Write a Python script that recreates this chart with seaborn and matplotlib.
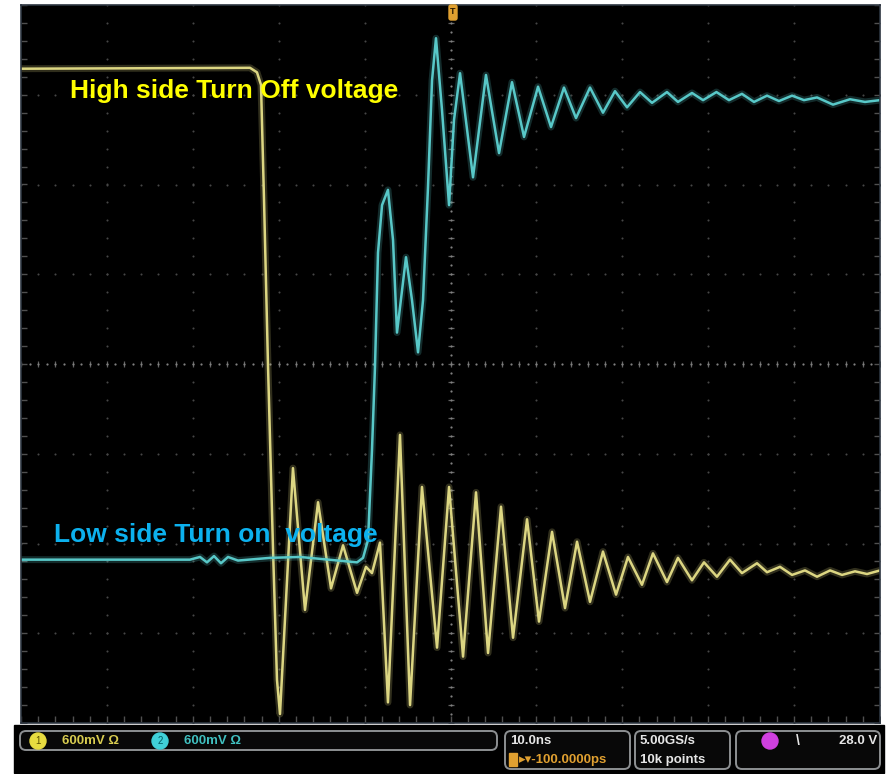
import numpy as np
import pandas as pd
import matplotlib.pyplot as plt
import seaborn as sns
from matplotlib.patches import FancyBboxPatch, Circle, Rectangle

# --- trace data (time in ns, amplitude in divisions) ---
ch1_t = [-50.0, -23.34, -22.53, -22.06, -21.71, -21.25, -20.66, -20.20, -19.85,
         -18.34, -16.94, -15.42, -13.91, -12.51, -10.88, -9.84, -9.14, -8.21,
         -7.28, -5.88, -4.71, -3.32, -1.57, -0.17, 1.46, 2.97, 4.37, 5.88, 7.28,
         8.91, 10.30, 11.82, 13.33, 14.73, 16.24, 17.75, 19.27, 20.66, 22.29,
         23.57, 25.20, 26.48, 28.11, 29.51, 31.02, 32.54, 33.93, 35.68, 36.85,
         38.36, 39.76, 41.27, 42.67, 44.19, 45.58, 47.09, 48.49, 50.0]
ch1_v = [3.29, 3.30, 3.25, 3.11, 1.83, 0.00, -2.07, -3.52, -3.90,
         -1.16, -2.74, -1.54, -2.50, -2.02, -2.55, -2.26, -2.33, -1.99,
         -3.77, -0.79, -3.80, -1.37, -3.16, -1.37, -3.26, -1.43, -3.22, -1.59, -3.05,
         -1.73, -2.87, -1.87, -2.72, -1.98, -2.65, -2.09, -2.57, -2.15, -2.46,
         -2.11, -2.43, -2.16, -2.41, -2.21, -2.37, -2.18, -2.33, -2.22, -2.32,
         -2.26, -2.35, -2.30, -2.37, -2.30, -2.35, -2.31, -2.34, -2.30]

ch2_t = [-50.0, -30.33, -29.16, -28.35, -27.53, -26.72, -25.90, -24.74, -21.01,
         -17.52, -10.88, -10.18, -9.60, -9.14, -8.79, -8.44, -7.97, -7.28, -6.69,
         -6.23, -5.18, -4.48, -3.78, -3.20, -2.62, -2.15, -1.69, -0.99, -0.17,
         0.41, 1.11, 2.62, 4.13, 5.65, 7.16, 8.56, 10.19, 11.70, 13.21, 14.61,
         16.24, 17.75, 19.15, 20.55, 22.06, 23.46, 25.20, 26.48, 28.11, 29.40,
         30.96, 32.42, 33.93, 35.33, 36.85, 38.24, 39.76, 41.15, 42.67, 44.53,
         46.51, 48.25, 50.0]
ch2_v = [-2.18, -2.18, -2.15, -2.21, -2.14, -2.22, -2.15, -2.19, -2.16,
         -2.15, -2.21, -2.16, -1.96, -0.96, -0.03, 1.24, 1.77, 1.94, 1.38,
         0.35, 1.19, 0.71, 0.13, 0.71, 1.97, 3.16, 3.63, 2.83, 1.77,
         2.72, 3.24, 2.08, 3.22, 2.35, 3.14, 2.53, 3.09, 2.64, 3.08, 2.74,
         3.08, 2.80, 3.04, 2.86, 3.03, 2.91, 3.03, 2.92, 3.02, 2.94,
         3.03, 2.94, 3.01, 2.92, 2.99, 2.93, 2.99, 2.94, 2.97, 2.89,
         2.95, 2.92, 2.94]

ch1_label = "High side Turn Off voltage"
ch2_label = "Low side Turn on  voltage"

ch1 = pd.DataFrame({"t": ch1_t, "v": ch1_v})
ch2 = pd.DataFrame({"t": ch2_t, "v": ch2_v})

sns.set_theme(style="dark", rc={"axes.facecolor": "black"})
plt.rcParams['font.family'] = ['Liberation Sans', 'DejaVu Sans']

W, H = 894, 774
fig = plt.figure(figsize=(W / 100, H / 100), dpi=100)
fig.patch.set_facecolor("white")
ax = fig.add_axes([21 / W, 51 / H, 859 / W, 718 / H])
ax.set_facecolor("black")

# --- graticule ---
grid_c = "#464646"
ys_dots = np.arange(-4, 4.01, 0.2)
xs_dots = np.arange(-50, 50.01, 2)
for t in np.arange(-40, 41, 10):
    if t != 0:
        ax.plot(np.full_like(ys_dots, t), ys_dots, ls="none", marker="o", ms=1.5, color=grid_c, mew=0)
for v in np.arange(-3, 4, 1):
    if v != 0:
        ax.plot(xs_dots, np.full_like(xs_dots, v), ls="none", marker="o", ms=1.5, color=grid_c, mew=0)
# centre cross with fine ticks
ax.plot(xs_dots, np.zeros_like(xs_dots), ls="none", marker="|", ms=5, mew=0.9, color="#626262")
ax.plot(np.arange(-50, 50.01, 1), np.zeros(101), ls="none", marker="o", ms=1.6, mew=0, color="#808080")
ax.plot(np.zeros_like(ys_dots), ys_dots, ls="none", marker="_", ms=5, mew=0.9, color="#626262")
ax.plot(np.zeros(81), np.arange(-4, 4.01, 0.1), ls="none", marker="o", ms=1.6, mew=0, color="#808080")
# edge ticks
ax.plot(np.full_like(ys_dots, -49.6), ys_dots, ls="none", marker="_", ms=4, mew=1.0, color="#505050")
ax.plot(np.full_like(ys_dots, 49.6), ys_dots, ls="none", marker="_", ms=4, mew=1.0, color="#505050")
ax.plot(xs_dots, np.full_like(xs_dots, -3.96), ls="none", marker="|", ms=4, mew=1.0, color="#505050")

# --- traces (glow + core) ---
yel, cya = "#dcd682", "#58c8c8"
sns.lineplot(data=ch1, x="t", y="v", ax=ax, color=yel, lw=5, alpha=0.22, estimator=None, sort=False)
sns.lineplot(data=ch1, x="t", y="v", ax=ax, color=yel, lw=1.8, estimator=None, sort=False)
sns.lineplot(data=ch2, x="t", y="v", ax=ax, color=cya, lw=5, alpha=0.22, estimator=None, sort=False)
sns.lineplot(data=ch2, x="t", y="v", ax=ax, color=cya, lw=1.8, estimator=None, sort=False)
for ln in ax.lines:
    ln.set_solid_joinstyle("round")

ax.text(-44.3, 3.04, ch1_label, color="#ffff00", fontsize=19, fontweight="bold", va="center", ha="left")
ax.text(-46.2, -1.90, ch2_label, color="#0cb1ee", fontsize=19, fontweight="bold", va="center", ha="left")

ax.set_xlim(-50, 50)
ax.set_ylim(-4, 4)
ax.set_xticks([])
ax.set_yticks([])
ax.set_xlabel("")
ax.set_ylabel("")
for s in ax.spines.values():
    s.set_color("#2c3540")
    s.set_linewidth(1.2)

# --- overlay in pixel units: trigger marker + status bar ---
ov = fig.add_axes([0, 0, 1, 1], zorder=5)
ov.set_xlim(0, W)
ov.set_ylim(H, 0)
ov.axis("off")
ov.patch.set_alpha(0)

ov.add_patch(FancyBboxPatch((449, 5), 8, 15, boxstyle="round,pad=0,rounding_size=2", color="#e0a030"))
ov.text(453, 12, "T", color="#2a1a00", fontsize=6.5, fontweight="bold", ha="center", va="center")

ov.add_patch(Rectangle((14, 725), 870, 48, color="black"))
box_kw = dict(boxstyle="round,pad=0,rounding_size=6", fc="#080808", ec="#8d9092", lw=1.4)
ov.add_patch(FancyBboxPatch((20, 731), 477, 19, **box_kw))
ov.add_patch(FancyBboxPatch((505, 731), 125, 38, **box_kw))
ov.add_patch(FancyBboxPatch((635, 731), 95, 38, **box_kw))
ov.add_patch(FancyBboxPatch((736, 731), 144, 38, **box_kw))

sb = dict(fontsize=9.5, fontweight="bold", va="center", ha="left")
ov.add_patch(Circle((38, 741), 8, color="#e8dc40"))
ov.text(38, 741, "1", color="#5a5000", fontsize=7, ha="center", va="center")
ov.text(62, 741, "600mV \u03a9", color="#d8cc50", **sb)
ov.add_patch(Circle((160, 741), 8, color="#40d0d8"))
ov.text(160, 741, "2", color="#005a60", fontsize=7, ha="center", va="center")
ov.text(184, 741, "600mV \u03a9", color="#40c0c0", **sb)

ov.text(510, 741, "10.0ns", color="#e6e6e6", **sb)
ov.add_patch(Rectangle((509, 753), 8, 13, color="#e0a030"))
ov.text(519, 760, "\u25b8\u25be-100.0000ps", color="#e0a030", **sb)
ov.text(640, 741, "5.00GS/s", color="#e6e6e6", **sb)
ov.text(640, 760, "10k points", color="#e6e6e6", **sb)
ov.add_patch(Circle((770, 741), 8, color="#d040e0"))
ov.text(796, 741, "\\", color="#e6e6e6", fontsize=10, fontweight="bold", ha="left", va="center")
ov.text(877, 741, "28.0 V", color="#e6e6e6", fontsize=9.5, fontweight="bold", va="center", ha="right")

fig.savefig("out.png", dpi=100, facecolor="white")
